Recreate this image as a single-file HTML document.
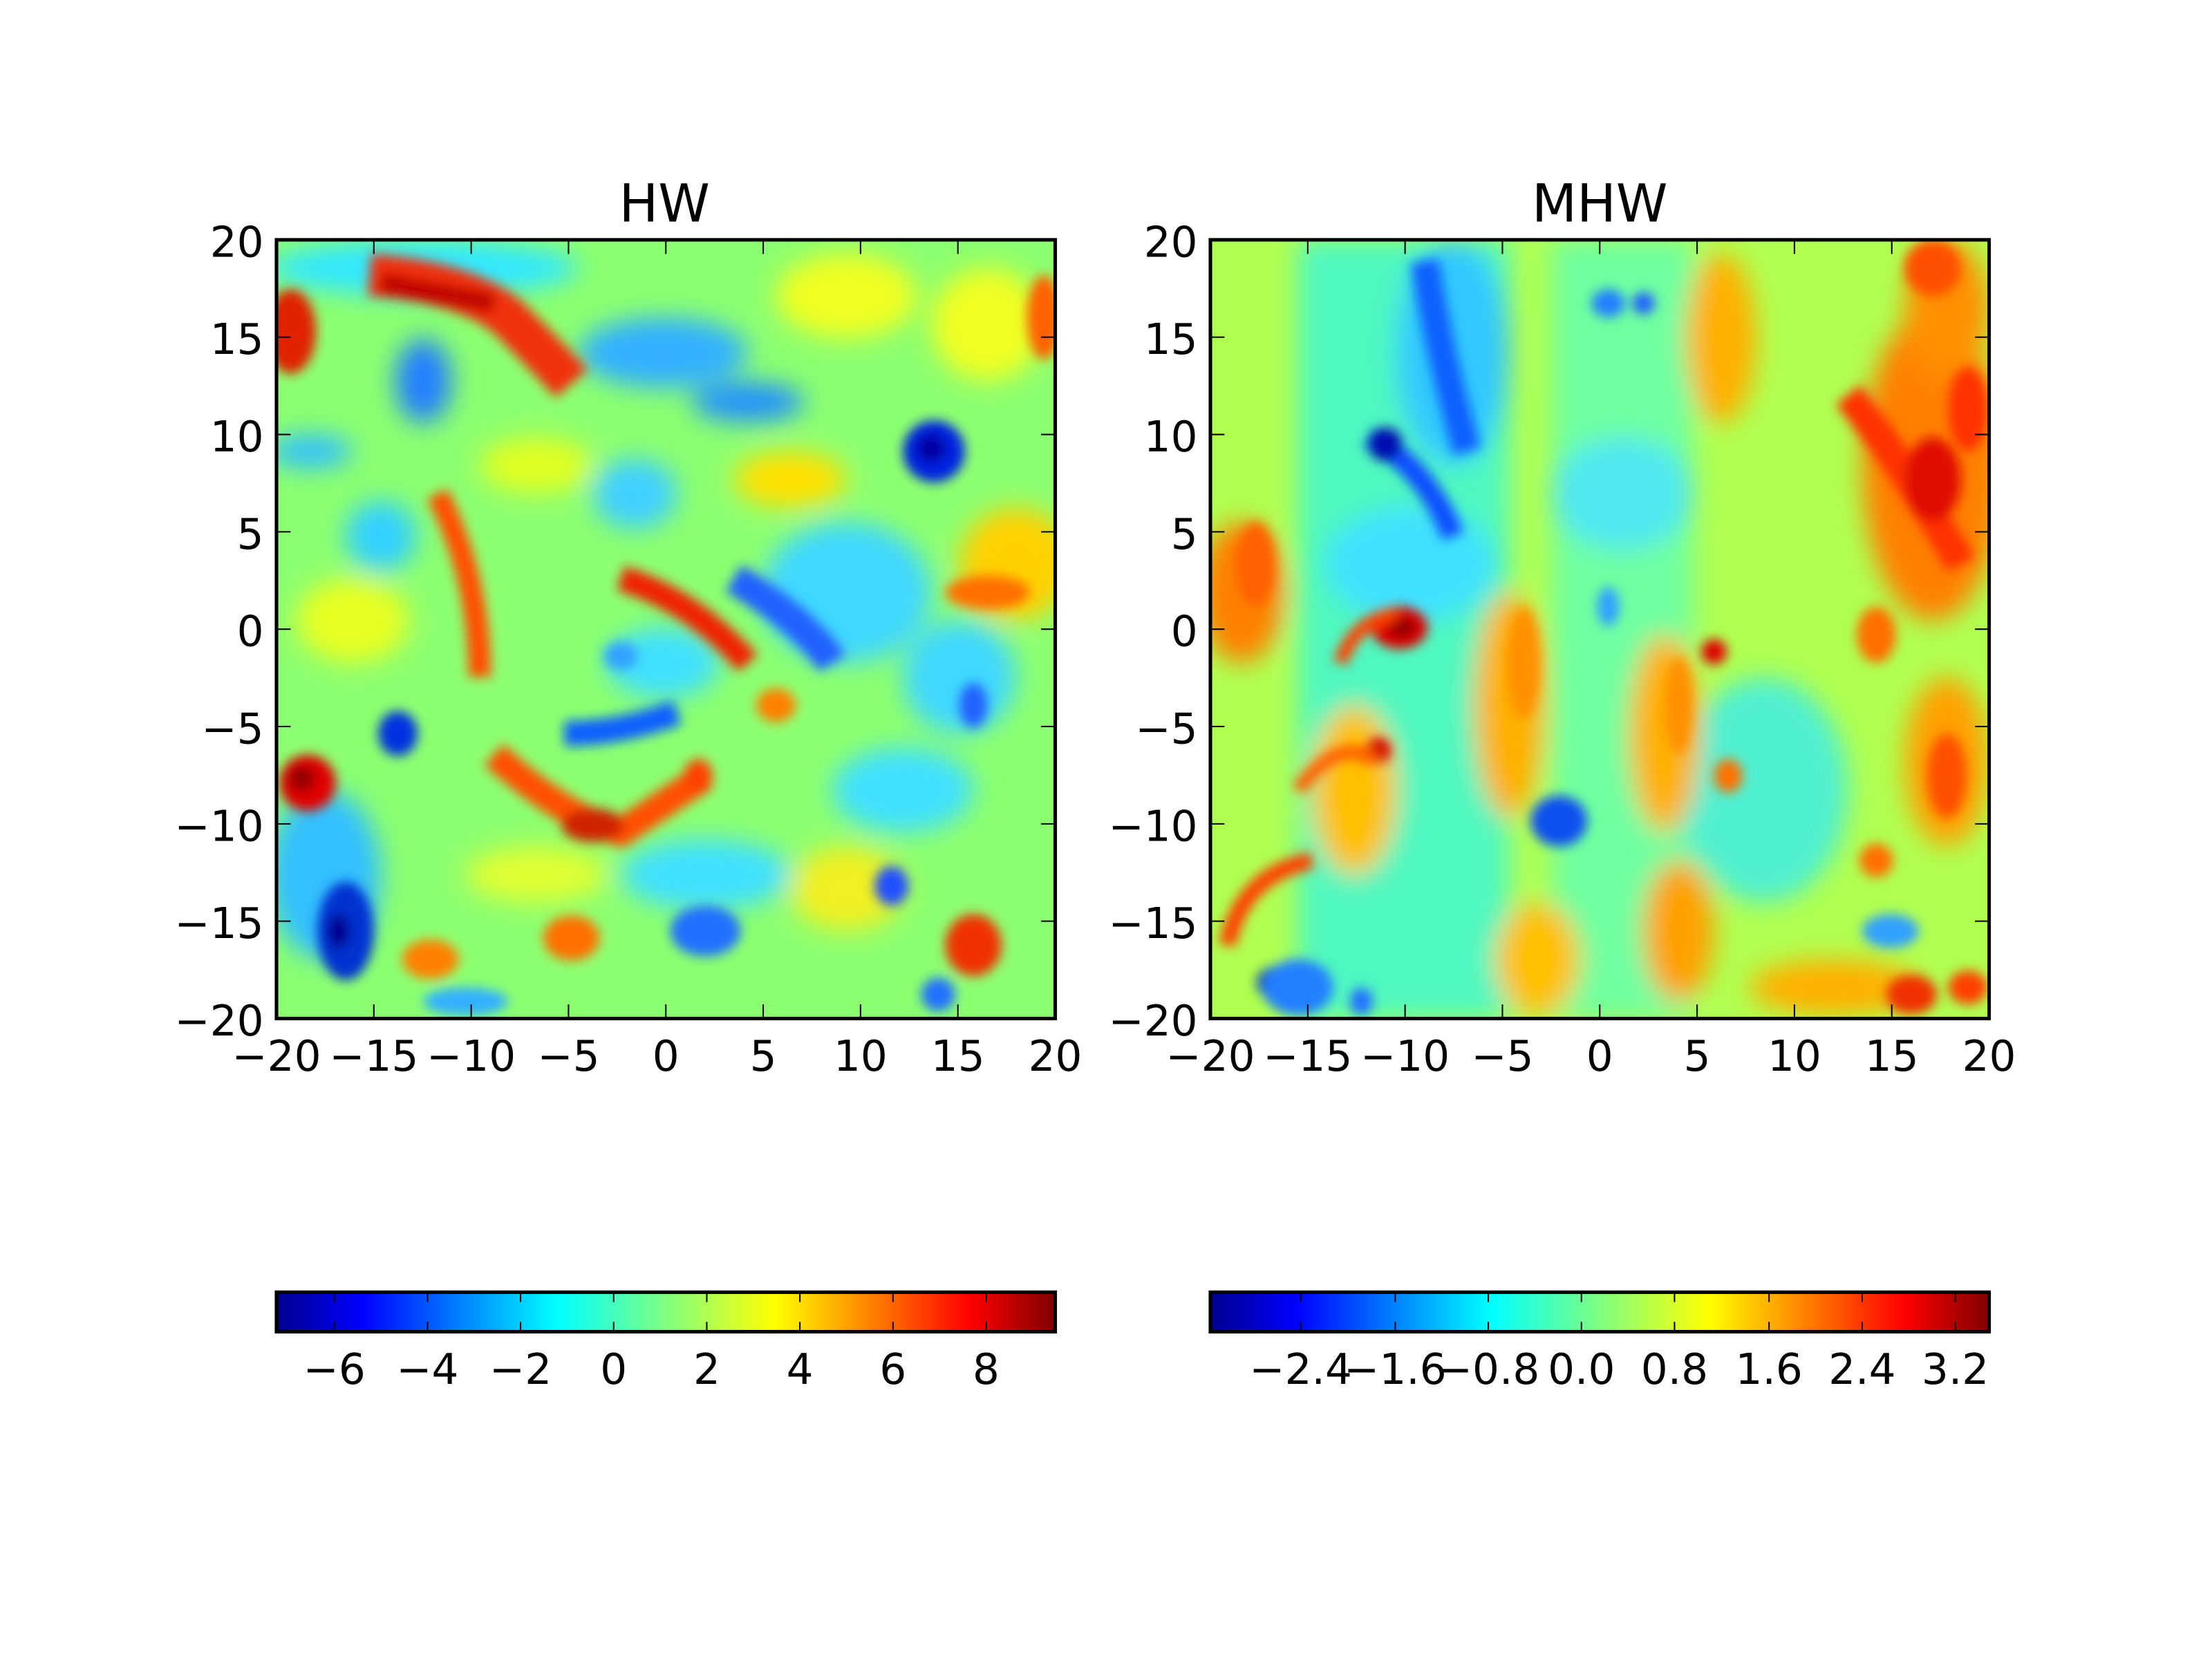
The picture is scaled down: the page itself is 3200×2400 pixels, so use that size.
<!DOCTYPE html>
<html><head><style>html,body{margin:0;padding:0;background:#fff}svg{display:block}</style></head><body>
<svg width="3200" height="2400" viewBox="0 0 1568 1176" xmlns="http://www.w3.org/2000/svg" font-family="DejaVu Sans, Liberation Sans, sans-serif">
<defs>
<filter id="b" x="-50%" y="-50%" width="200%" height="200%"><feGaussianBlur stdDeviation="9"/></filter>
<filter id="b2" x="-50%" y="-50%" width="200%" height="200%"><feGaussianBlur stdDeviation="4"/></filter>
<clipPath id="c1"><rect x="196" y="170" width="552" height="552"/></clipPath>
<clipPath id="c2"><rect x="858" y="170" width="552" height="552"/></clipPath>
<linearGradient id="jet" x1="0" x2="1" y1="0" y2="0">
<stop offset="0" stop-color="#00008f"/><stop offset="0.11" stop-color="#0000ff"/><stop offset="0.36" stop-color="#00ffff"/><stop offset="0.5" stop-color="#80ff80"/><stop offset="0.64" stop-color="#ffff00"/><stop offset="0.89" stop-color="#ff0000"/><stop offset="1" stop-color="#800000"/>
</linearGradient>
</defs>
<rect width="1568" height="1176" fill="#fff"/>

<!-- LEFT PANEL -->
<g clip-path="url(#c1)">
<rect x="196" y="170" width="552" height="552" fill="#8cff70"/>
<g filter="url(#b)">
<ellipse cx="300" cy="190" rx="110" ry="20" fill="#30e8ff"/>
<ellipse cx="470" cy="250" rx="60" ry="25" fill="#30b0ff"/>
<ellipse cx="530" cy="285" rx="40" ry="14" fill="#2090ff"/>
<ellipse cx="300" cy="270" rx="20" ry="30" fill="#2080ff"/>
<ellipse cx="220" cy="320" rx="30" ry="12" fill="#30c0ff"/>
<ellipse cx="600" cy="210" rx="50" ry="30" fill="#f0ff20"/>
<ellipse cx="700" cy="230" rx="40" ry="40" fill="#f0ff20"/>
<ellipse cx="560" cy="340" rx="40" ry="20" fill="#ffe000"/>
<ellipse cx="380" cy="330" rx="40" ry="20" fill="#e0ff20"/>
<ellipse cx="270" cy="380" rx="25" ry="25" fill="#30d0ff"/>
<ellipse cx="450" cy="350" rx="30" ry="25" fill="#40d0ff"/>
<ellipse cx="600" cy="420" rx="60" ry="50" fill="#40d8ff"/>
<ellipse cx="470" cy="470" rx="40" ry="25" fill="#40e0ff"/>
<ellipse cx="680" cy="480" rx="40" ry="40" fill="#40d8ff"/>
<ellipse cx="640" cy="560" rx="50" ry="30" fill="#40e0ff"/>
<ellipse cx="230" cy="620" rx="40" ry="60" fill="#30c0ff"/>
<ellipse cx="500" cy="620" rx="60" ry="25" fill="#40e0ff"/>
<ellipse cx="380" cy="620" rx="50" ry="20" fill="#e0ff30"/>
<ellipse cx="720" cy="400" rx="40" ry="40" fill="#ffd000"/>
<ellipse cx="600" cy="630" rx="40" ry="30" fill="#f0f020"/>
<ellipse cx="250" cy="440" rx="40" ry="30" fill="#e8ff20"/>
</g>
<g filter="url(#b2)">
<path d="M262 195 Q330 200 360 225 Q390 255 405 272" stroke="#f03010" stroke-width="30" fill="none"/>
<path d="M270 200 L350 215" stroke="#c00000" stroke-width="14" fill="none"/>
<ellipse cx="206" cy="235" rx="18" ry="30" fill="#e02000"/>
<ellipse cx="740" cy="225" rx="12" ry="30" fill="#ff6000"/>
<ellipse cx="662" cy="320" rx="22" ry="22" fill="#0020e0"/>
<ellipse cx="660" cy="318" rx="10" ry="10" fill="#0000a0"/>
<path d="M440 410 Q490 425 530 470" stroke="#f02000" stroke-width="18" fill="none"/>
<path d="M310 350 Q340 410 340 480" stroke="#ff5000" stroke-width="16" fill="none"/>
<path d="M520 410 Q570 440 590 470" stroke="#2060ff" stroke-width="22" fill="none"/>
<ellipse cx="282" cy="520" rx="14" ry="16" fill="#0030e0"/>
<ellipse cx="218" cy="555" rx="20" ry="20" fill="#e00000"/>
<ellipse cx="214" cy="552" rx="9" ry="9" fill="#900000"/>
<path d="M400 520 Q440 520 480 505" stroke="#1060ff" stroke-width="18" fill="none"/>
<path d="M350 535 Q400 580 440 590 Q470 570 500 550" stroke="#ff5000" stroke-width="20" fill="none"/>
<ellipse cx="420" cy="585" rx="22" ry="12" fill="#d02000"/>
<ellipse cx="245" cy="660" rx="20" ry="35" fill="#0030d0"/>
<ellipse cx="240" cy="660" rx="8" ry="12" fill="#000090"/>
<ellipse cx="690" cy="670" rx="20" ry="22" fill="#f03000"/>
<ellipse cx="405" cy="665" rx="20" ry="16" fill="#ff7000"/>
<ellipse cx="305" cy="680" rx="20" ry="14" fill="#ff8000"/>
<ellipse cx="500" cy="660" rx="25" ry="18" fill="#2070ff"/>
<ellipse cx="632" cy="628" rx="12" ry="14" fill="#2050ff"/>
<ellipse cx="665" cy="705" rx="12" ry="12" fill="#2070ff"/>
<ellipse cx="690" cy="500" rx="10" ry="16" fill="#2060ff"/>
<ellipse cx="550" cy="500" rx="14" ry="12" fill="#ff8000"/>
<ellipse cx="440" cy="465" rx="12" ry="10" fill="#30a0ff"/>
<ellipse cx="700" cy="420" rx="30" ry="12" fill="#ff7000"/>
<ellipse cx="495" cy="550" rx="10" ry="12" fill="#ff4000"/>
<ellipse cx="330" cy="710" rx="30" ry="10" fill="#30b0ff"/>
</g>
</g>
<rect x="196" y="170" width="552" height="552" fill="none" stroke="#000" stroke-width="2.5"/>

<!-- RIGHT PANEL -->
<g clip-path="url(#c2)">
<rect x="858" y="170" width="552" height="552" fill="#b0ff50"/>
<g filter="url(#b)">
<rect x="920" y="170" width="150" height="552" fill="#50f8c0"/>
<rect x="1100" y="170" width="100" height="552" fill="#70ffa0"/>
<ellipse cx="1250" cy="560" rx="60" ry="80" fill="#50f0d0"/>
<ellipse cx="1030" cy="250" rx="40" ry="80" fill="#30c8ff"/>
<ellipse cx="1000" cy="400" rx="60" ry="40" fill="#40e0ff"/>
<ellipse cx="1150" cy="350" rx="50" ry="40" fill="#50e8f0"/>
<ellipse cx="1370" cy="330" rx="50" ry="110" fill="#ff8000"/>
<ellipse cx="1380" cy="220" rx="30" ry="50" fill="#ff9000"/>
<ellipse cx="880" cy="420" rx="30" ry="50" fill="#ff8000"/>
<ellipse cx="1220" cy="240" rx="25" ry="60" fill="#ffb000"/>
<ellipse cx="1380" cy="540" rx="30" ry="60" fill="#ffa000"/>
<ellipse cx="1070" cy="500" rx="25" ry="80" fill="#ffb000"/>
<ellipse cx="1180" cy="520" rx="25" ry="70" fill="#ffb000"/>
<ellipse cx="1090" cy="680" rx="30" ry="40" fill="#ffc000"/>
<ellipse cx="1190" cy="660" rx="25" ry="50" fill="#ffa000"/>
<ellipse cx="960" cy="560" rx="30" ry="60" fill="#ffc000"/>
<ellipse cx="1300" cy="700" rx="60" ry="20" fill="#ffb000"/>
</g>
<g filter="url(#b2)">
<path d="M1010 185 Q1020 250 1040 320" stroke="#1060ff" stroke-width="20" fill="none"/>
<path d="M970 310 Q1010 330 1030 380" stroke="#1050ff" stroke-width="16" fill="none"/>
<ellipse cx="982" cy="315" rx="12" ry="12" fill="#0010b0"/>
<ellipse cx="992" cy="445" rx="20" ry="15" fill="#e00000"/>
<ellipse cx="994" cy="445" rx="10" ry="7" fill="#900000"/>
<path d="M950 470 Q960 440 990 435" stroke="#ff4000" stroke-width="10" fill="none"/>
<ellipse cx="977" cy="532" rx="9" ry="9" fill="#d00000"/>
<path d="M920 560 Q950 520 975 540" stroke="#ff6000" stroke-width="10" fill="none"/>
<ellipse cx="1105" cy="582" rx="20" ry="18" fill="#1050f0"/>
<ellipse cx="905" cy="697" rx="14" ry="12" fill="#0010b0"/>
<ellipse cx="920" cy="700" rx="25" ry="20" fill="#2080ff"/>
<path d="M870 670 Q880 620 930 610" stroke="#ff4000" stroke-width="12" fill="none"/>
<path d="M1310 280 Q1350 330 1390 400" stroke="#ff3000" stroke-width="22" fill="none"/>
<ellipse cx="1370" cy="340" rx="20" ry="30" fill="#e01000"/>
<ellipse cx="1395" cy="290" rx="14" ry="30" fill="#ff3000"/>
<ellipse cx="1370" cy="190" rx="20" ry="20" fill="#ff5000"/>
<ellipse cx="1215" cy="462" rx="9" ry="9" fill="#e00000"/>
<ellipse cx="1330" cy="450" rx="14" ry="20" fill="#ff7000"/>
<ellipse cx="1330" cy="610" rx="12" ry="12" fill="#ff7000"/>
<ellipse cx="1225" cy="550" rx="10" ry="12" fill="#ff7000"/>
<ellipse cx="1380" cy="550" rx="14" ry="30" fill="#ff5000"/>
<ellipse cx="1355" cy="705" rx="18" ry="14" fill="#f03000"/>
<ellipse cx="1395" cy="700" rx="14" ry="12" fill="#ff4000"/>
<ellipse cx="1140" cy="215" rx="12" ry="10" fill="#2080ff"/>
<ellipse cx="1165" cy="215" rx="8" ry="8" fill="#2060ff"/>
<ellipse cx="1140" cy="430" rx="8" ry="14" fill="#30a0ff"/>
<ellipse cx="1340" cy="660" rx="20" ry="12" fill="#30a0ff"/>
<ellipse cx="965" cy="710" rx="8" ry="10" fill="#2070ff"/>
<ellipse cx="890" cy="400" rx="14" ry="30" fill="#ff6000"/>
<ellipse cx="1080" cy="470" rx="12" ry="40" fill="#ff9000"/>
<ellipse cx="1190" cy="500" rx="10" ry="35" fill="#ff9000"/>
</g>
</g>
<rect x="858" y="170" width="552" height="552" fill="none" stroke="#000" stroke-width="2.5"/>

<!-- ticks -->
<g stroke="#000" stroke-width="1">
<path d="M265 722v-10M334 722v-10M403 722v-10M472 722v-10M541 722v-10M610 722v-10M679 722v-10M265 170v10M334 170v10M403 170v10M472 170v10M541 170v10M610 170v10M679 170v10M196 239h10M196 308h10M196 377h10M196 446h10M196 515h10M196 584h10M196 653h10M748 239h-10M748 308h-10M748 377h-10M748 446h-10M748 515h-10M748 584h-10M748 653h-10"/>
<path d="M927 722v-10M996 722v-10M1065 722v-10M1134 722v-10M1203 722v-10M1272 722v-10M1341 722v-10M927 170v10M996 170v10M1065 170v10M1134 170v10M1203 170v10M1272 170v10M1341 170v10M858 239h10M858 308h10M858 377h10M858 446h10M858 515h10M858 584h10M858 653h10M1410 239h-10M1410 308h-10M1410 377h-10M1410 446h-10M1410 515h-10M1410 584h-10M1410 653h-10"/>
</g>

<g font-size="30" fill="#000">
<text x="471" y="157" text-anchor="middle" font-size="37">HW</text>
<text x="1134" y="157" text-anchor="middle" font-size="37">MHW</text>
<g text-anchor="end">
<text x="187" y="182">20</text><text x="187" y="251">15</text><text x="187" y="320">10</text><text x="187" y="389">5</text><text x="187" y="458">0</text><text x="187" y="527">−5</text><text x="187" y="596">−10</text><text x="187" y="665">−15</text><text x="187" y="734">−20</text>
<text x="849" y="182">20</text><text x="849" y="251">15</text><text x="849" y="320">10</text><text x="849" y="389">5</text><text x="849" y="458">0</text><text x="849" y="527">−5</text><text x="849" y="596">−10</text><text x="849" y="665">−15</text><text x="849" y="734">−20</text>
</g>
<g text-anchor="middle">
<text x="196" y="759">−20</text><text x="265" y="759">−15</text><text x="334" y="759">−10</text><text x="403" y="759">−5</text><text x="472" y="759">0</text><text x="541" y="759">5</text><text x="610" y="759">10</text><text x="679" y="759">15</text><text x="748" y="759">20</text>
<text x="858" y="759">−20</text><text x="927" y="759">−15</text><text x="996" y="759">−10</text><text x="1065" y="759">−5</text><text x="1134" y="759">0</text><text x="1203" y="759">5</text><text x="1272" y="759">10</text><text x="1341" y="759">15</text><text x="1410" y="759">20</text>
</g>
</g>

<!-- colorbars -->
<rect x="196" y="916" width="552" height="28" fill="url(#jet)" stroke="#000" stroke-width="2.5"/>
<rect x="858" y="916" width="552" height="28" fill="url(#jet)" stroke="#000" stroke-width="2.5"/>
<g stroke="#000" stroke-width="1">
<path d="M237 916v7M237 944v-7M303 916v7M303 944v-7M369 916v7M369 944v-7M435 916v7M435 944v-7M501 916v7M501 944v-7M567 916v7M567 944v-7M633 916v7M633 944v-7M699 916v7M699 944v-7"/>
<path d="M922 916v7M922 944v-7M989 916v7M989 944v-7M1055 916v7M1055 944v-7M1121 916v7M1121 944v-7M1187 916v7M1187 944v-7M1254 916v7M1254 944v-7M1320 916v7M1320 944v-7M1386 916v7M1386 944v-7"/>
</g>
<g font-size="30" fill="#000" text-anchor="middle">
<text x="237" y="981">−6</text><text x="303" y="981">−4</text><text x="369" y="981">−2</text><text x="435" y="981">0</text><text x="501" y="981">2</text><text x="567" y="981">4</text><text x="633" y="981">6</text><text x="699" y="981">8</text>
<text x="922" y="981">−2.4</text><text x="989" y="981">−1.6</text><text x="1055" y="981">−0.8</text><text x="1121" y="981">0.0</text><text x="1187" y="981">0.8</text><text x="1254" y="981">1.6</text><text x="1320" y="981">2.4</text><text x="1386" y="981">3.2</text>
</g>
</svg>
</body></html>
